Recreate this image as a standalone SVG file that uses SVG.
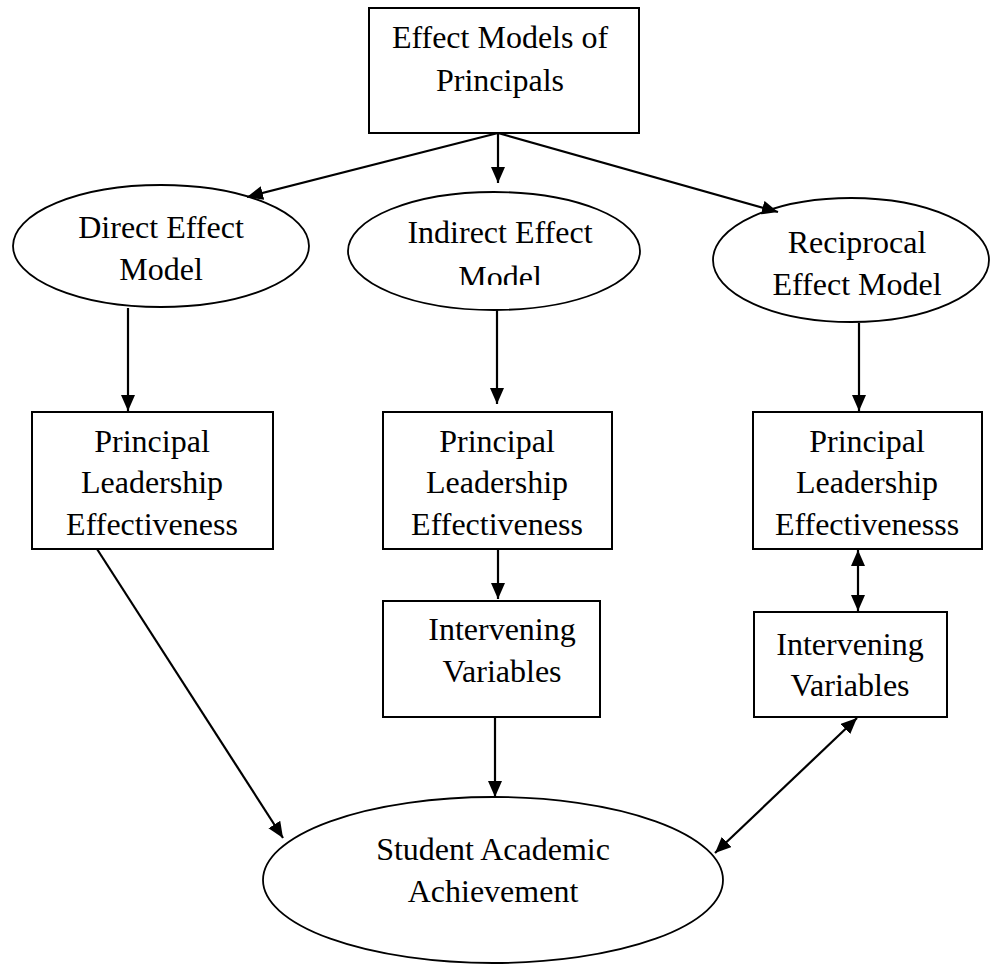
<svg xmlns="http://www.w3.org/2000/svg" width="992" height="964" viewBox="0 0 992 964">
<style>
.box{fill:#fff;stroke:#000;stroke-width:2}
.ell{fill:#fff;stroke:#000;stroke-width:1.8}
.t{font-family:"Liberation Serif","Times New Roman",Tinos,"DejaVu Serif",serif;font-size:32px;fill:#000;text-anchor:middle}
.c{stroke:#000;stroke-width:2.2;fill:none}
</style>
<defs>
<marker id="ah" markerUnits="userSpaceOnUse" markerWidth="17" markerHeight="15" refX="16" refY="7" orient="auto-start-reverse">
<path d="M0,0 L16,7 L0,14 z" fill="#000"/>
</marker>
<clipPath id="clipModel"><rect x="400" y="250" width="200" height="35"/></clipPath>
</defs>
<rect width="992" height="964" fill="#fff"/>
<g id="top">
<rect class="box" x="369" y="8" width="270" height="125"/>
<text class="t" x="500" y="48">Effect Models of</text>
<text class="t" x="500" y="91">Principals</text>
</g>
<g id="direct">
<ellipse class="ell" cx="161" cy="246" rx="148" ry="61"/>
<text class="t" x="161" y="238">Direct Effect</text>
<text class="t" x="161" y="280">Model</text>
</g>
<g id="indirect">
<ellipse class="ell" cx="494" cy="251" rx="146" ry="59"/>
<text class="t" x="500" y="243">Indirect Effect</text>
<text class="t" x="500" y="288" clip-path="url(#clipModel)">Model</text>
</g>
<g id="reciprocal">
<ellipse class="ell" cx="851" cy="260" rx="138" ry="62"/>
<text class="t" x="857" y="253">Reciprocal</text>
<text class="t" x="857" y="295">Effect Model</text>
</g>
<g id="ple1">
<rect class="box" x="32" y="412" width="241" height="137"/>
<text class="t" x="152" y="452">Principal</text>
<text class="t" x="152" y="493">Leadership</text>
<text class="t" x="152" y="535">Effectiveness</text>
</g>
<g id="ple2">
<rect class="box" x="383" y="412" width="229" height="137"/>
<text class="t" x="497" y="452">Principal</text>
<text class="t" x="497" y="493">Leadership</text>
<text class="t" x="497" y="535">Effectiveness</text>
</g>
<g id="ple3">
<rect class="box" x="753" y="412" width="229" height="137"/>
<text class="t" x="867" y="452">Principal</text>
<text class="t" x="867" y="493">Leadership</text>
<text class="t" x="867" y="535">Effectivenesss</text>
</g>
<g id="iv2">
<rect class="box" x="383" y="601" width="217" height="116"/>
<text class="t" x="502" y="640">Intervening</text>
<text class="t" x="502" y="682">Variables</text>
</g>
<g id="iv3">
<rect class="box" x="754" y="612" width="193" height="105"/>
<text class="t" x="850" y="655">Intervening</text>
<text class="t" x="850" y="696">Variables</text>
</g>
<g id="student">
<ellipse class="ell" cx="493" cy="880" rx="230" ry="83"/>
<text class="t" x="493" y="860">Student Academic</text>
<text class="t" x="493" y="902">Achievement</text>
</g>
<g id="connectors">
<line class="c" x1="498" y1="133" x2="498" y2="183" marker-end="url(#ah)"/>
<line class="c" x1="498" y1="133" x2="247" y2="197" marker-end="url(#ah)"/>
<line class="c" x1="498" y1="133" x2="778" y2="212" marker-end="url(#ah)"/>
<line class="c" x1="128" y1="308" x2="128" y2="411" marker-end="url(#ah)"/>
<line class="c" x1="497" y1="310" x2="497" y2="404" marker-end="url(#ah)"/>
<line class="c" x1="859" y1="323" x2="859" y2="411" marker-end="url(#ah)"/>
<line class="c" x1="498" y1="549" x2="498" y2="599" marker-end="url(#ah)"/>
<line class="c" x1="858" y1="550" x2="858" y2="611" marker-start="url(#ah)" marker-end="url(#ah)"/>
<line class="c" x1="495" y1="717" x2="495" y2="797" marker-end="url(#ah)"/>
<line class="c" x1="97" y1="549" x2="283" y2="838" marker-end="url(#ah)"/>
<line class="c" x1="715" y1="853" x2="857" y2="718" marker-start="url(#ah)" marker-end="url(#ah)"/>
</g>
</svg>
